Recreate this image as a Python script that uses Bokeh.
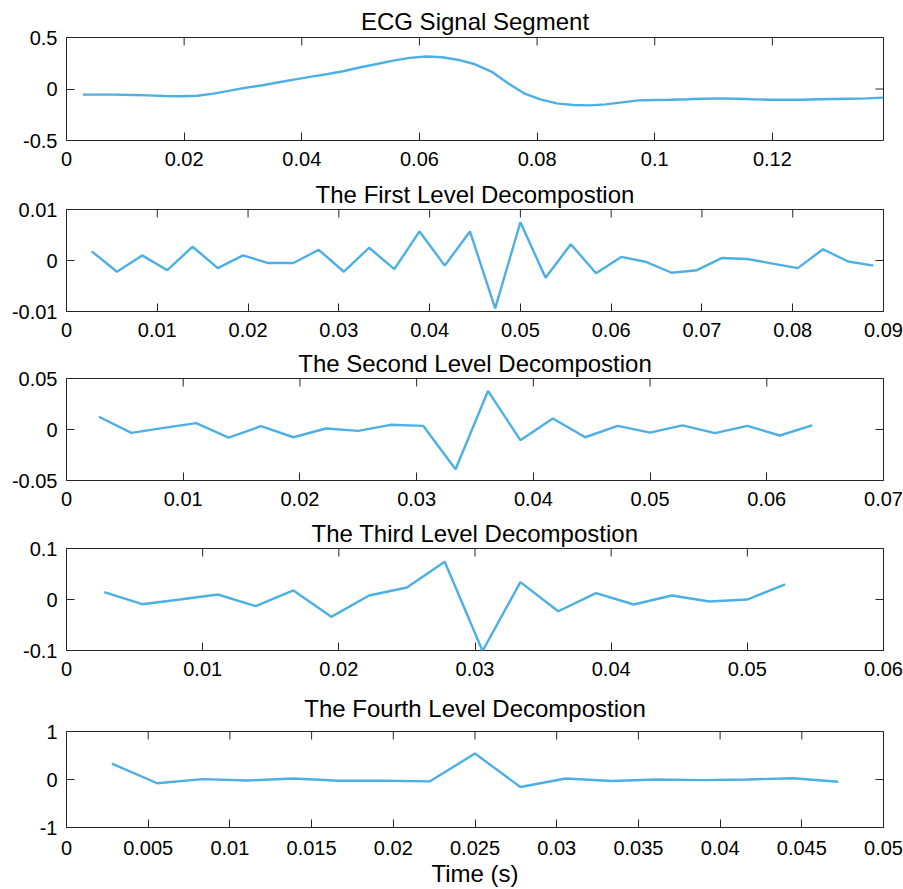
import math
from bokeh.plotting import figure
from bokeh.layouts import column
from bokeh.models import FixedTicker, Range1d
from bokeh.embed import file_html
from bokeh.resources import INLINE

FS = 360.0  # sampling rate (Hz)

ecg_signal = [-0.055, -0.055, -0.055, -0.058, -0.062, -0.068, -0.071, -0.065, -0.045, -0.016,
              0.013, 0.036, 0.065, 0.094, 0.120, 0.146, 0.175, 0.211, 0.243, 0.276,
              0.302, 0.315, 0.308, 0.282, 0.240, 0.169, 0.058, -0.042, -0.100, -0.140,
              -0.156, -0.159, -0.149, -0.130, -0.110, -0.107, -0.104, -0.100, -0.094, -0.091,
              -0.094, -0.100, -0.104, -0.104, -0.104, -0.100, -0.097, -0.094, -0.091, -0.084]

level1 = [0.0018, -0.0022, 0.0010, -0.0019, 0.0027, -0.0015, 0.0010, -0.0005, -0.0005, 0.0021,
          -0.0022, 0.0025, -0.0017, 0.0057, -0.0010, 0.0057, -0.0094, 0.0075, -0.0034, 0.0032,
          -0.0025, 0.0007, -0.0003, -0.0024, -0.0019, 0.0005, 0.0003, -0.0006, -0.0015, 0.0022,
          -0.0002, -0.0010]

level2 = [0.0125, -0.0033, 0.0016, 0.0062, -0.0079, 0.0033, -0.0076, 0.0010, -0.0013, 0.0046,
          0.0036, -0.0390, 0.0378, -0.0105, 0.0108, -0.0076, 0.0036, -0.0030, 0.0040, -0.0036,
          0.0036, -0.0059, 0.0040]

level3 = [0.0144, -0.0092, 0.0000, 0.0098, -0.0131, 0.0177, -0.0340, 0.0079, 0.0236, 0.0740,
          -0.1010, 0.0340, -0.0230, 0.0125, -0.0098, 0.0079, -0.0040, 0.0000, 0.0295]

level4 = [0.33, -0.078, 0.007, -0.020, 0.020, -0.026, -0.026, -0.040, 0.540, -0.156,
          0.020, -0.030, 0.000, -0.013, 0.000, 0.026, -0.046]

titles = ["ECG Signal Segment", "The First Level Decompostion", "The Second Level Decompostion",
          "The Third Level Decompostion", "The Fourth Level Decompostion"]

x_ends = [50 / FS, 0.09, 0.07, 0.06, 0.05]
x_ticks = [
    [0, 0.02, 0.04, 0.06, 0.08, 0.1, 0.12],
    [0, 0.01, 0.02, 0.03, 0.04, 0.05, 0.06, 0.07, 0.08, 0.09],
    [0, 0.01, 0.02, 0.03, 0.04, 0.05, 0.06, 0.07],
    [0, 0.01, 0.02, 0.03, 0.04, 0.05, 0.06],
    [0, 0.005, 0.01, 0.015, 0.02, 0.025, 0.03, 0.035, 0.04, 0.045, 0.05],
]
x_labels = [
    ["0", "0.02", "0.04", "0.06", "0.08", "0.1", "0.12"],
    ["0", "0.01", "0.02", "0.03", "0.04", "0.05", "0.06", "0.07", "0.08", "0.09"],
    ["0", "0.01", "0.02", "0.03", "0.04", "0.05", "0.06", "0.07"],
    ["0", "0.01", "0.02", "0.03", "0.04", "0.05", "0.06"],
    ["0", "0.005", "0.01", "0.015", "0.02", "0.025", "0.03", "0.035", "0.04", "0.045", "0.05"],
]
y_ticks = [[-0.5, 0, 0.5], [-0.01, 0, 0.01], [-0.05, 0, 0.05], [-0.1, 0, 0.1], [-1, 0, 1]]
y_labels = [["-0.5", "0", "0.5"], ["-0.01", "0", "0.01"], ["-0.05", "0", "0.05"],
            ["-0.1", "0", "0.1"], ["-1", "0", "1"]]

series = [ecg_signal, level1, level2, level3, level4]

# layout: (figure height, top border, bottom border, title standoff, x tick standoff)
layout = [(172, 37, 32, 6, 11), (170, 37, 31, 4, 11), (170, 36, 32, 4, 11),
          (170, 36, 32, 4, 11), (207, 48, 59, 20, 13)]

W = 903
FONT = "Liberation Sans"
LINE_COLOR = "#4DB0E4"
AX_COLOR = "#262626"


def style_axis(ax, standoff):
    ax.axis_line_color = None
    ax.major_tick_in = 8
    ax.major_tick_out = 0
    ax.minor_tick_line_color = None
    ax.major_tick_line_color = AX_COLOR
    ax.major_tick_line_width = 1
    ax.major_label_text_font = FONT
    ax.major_label_text_color = "#000000"
    ax.major_label_text_font_size = "20px"
    ax.major_label_standoff = standoff


figs = []
for i in range(5):
    h, top, bottom, t_standoff, x_standoff = layout[i]
    vals = series[i]
    t = [(k + 1) / FS for k in range(len(vals))]
    x0, x1 = 0, x_ends[i]
    y0, y1 = y_ticks[i][0], y_ticks[i][-1]
    p = figure(width=W, height=h, output_backend="svg", toolbar_location=None,
               x_range=Range1d(x0, x1), y_range=Range1d(y0, y1),
               min_border_left=66, min_border_right=20,
               min_border_top=top, min_border_bottom=bottom)
    p.line(t, vals, line_color=LINE_COLOR, line_width=2.4)

    # mirrored inward ticks on the top and right edges (box style)
    p.scatter(x_ticks[i], [y1] * len(x_ticks[i]), marker="dash", size=16, angle=math.pi / 2,
              line_color=AX_COLOR, line_width=1)
    p.scatter([x1] * len(y_ticks[i]), y_ticks[i], marker="dash", size=16,
              line_color=AX_COLOR, line_width=1)

    p.grid.visible = False
    p.outline_line_color = AX_COLOR
    p.outline_line_width = 1
    p.outline_line_alpha = 1.0
    p.background_fill_color = "white"
    p.border_fill_color = "white"

    xa = p.xaxis[0]
    xa.ticker = FixedTicker(ticks=x_ticks[i])
    xa.major_label_overrides = dict(zip(x_ticks[i], x_labels[i]))
    style_axis(xa, x_standoff)

    ya = p.yaxis[0]
    ya.ticker = FixedTicker(ticks=y_ticks[i])
    ya.major_label_overrides = dict(zip(y_ticks[i], y_labels[i]))
    style_axis(ya, 9)

    p.title.text = titles[i]
    p.title.text_font = FONT
    p.title.text_font_size = "24px"
    p.title.text_font_style = "normal"
    p.title.text_color = "#000000"
    p.title.align = "center"
    p.title.standoff = t_standoff

    if i == 4:
        xa.axis_label = "Time (s)"
        xa.axis_label_text_font = FONT
        xa.axis_label_text_font_size = "24px"
        xa.axis_label_text_font_style = "normal"
        xa.axis_label_text_color = "#000000"
        xa.axis_label_standoff = 2

    figs.append(p)

layout_col = column(*figs, spacing=0)
open("out.html", "w").write(file_html(layout_col, INLINE))
